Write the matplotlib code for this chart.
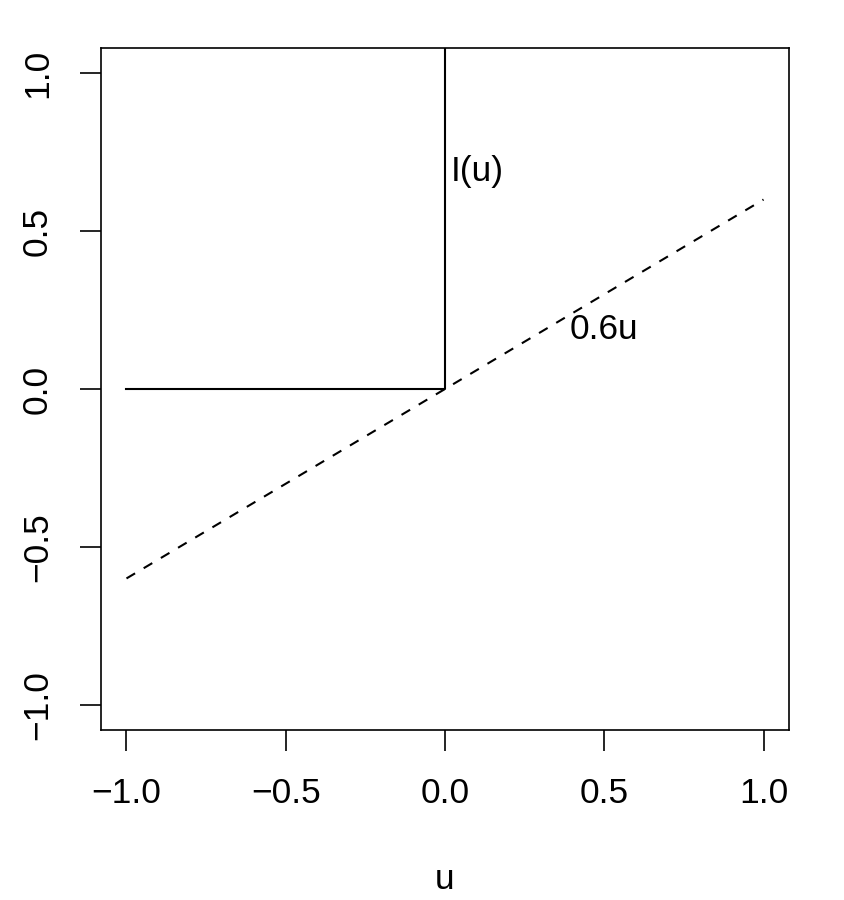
import numpy as np
import matplotlib.pyplot as plt

plt.rcParams['font.family'] = ['Liberation Sans', 'DejaVu Sans']

# indicator curve I(u): zero for u<0, jumps up at u=0
step_u = [-1.0, 0.0, 0.0]
step_I = [0.0, 0.0, 2.0]
# linear reference 0.6u
lin_u = [-1.0, 1.0]
lin_y = [0.6 * v for v in lin_u]

ticks = [-1.0, -0.5, 0.0, 0.5, 1.0]
tick_labels = ['\u22121.0', '\u22120.5', '0.0', '0.5', '1.0']

fs = 25.5

fig = plt.figure(figsize=(8.44, 9), dpi=100)
ax = fig.add_axes([101/844, 1 - 730/900, (789-101)/844, (730-48)/900])

ax.plot(step_u, step_I, color='black', lw=1.5)
ax.plot(lin_u, lin_y, color='black', lw=1.5, linestyle=(0, (4.8, 4.8)))
ax.text(0.1, 0.69, 'I(u)', fontsize=fs, ha='center', va='center')
ax.text(0.5, 0.19, '0.6u', fontsize=fs, ha='center', va='center')

ax.set_xlim(-1.08, 1.08)
ax.set_ylim(-1.08, 1.08)
ax.set_xticks(ticks)
ax.set_xticklabels(tick_labels)
ax.set_yticks(ticks)
ax.set_yticklabels(tick_labels, rotation=90, va='center')
ax.tick_params(length=15, width=1.2, labelsize=fs, pad=19)
for s in ax.spines.values():
    s.set_linewidth(1.2)

ax.set_xlabel('u', fontsize=fs, labelpad=38)

fig.savefig('out.png', dpi=100)
